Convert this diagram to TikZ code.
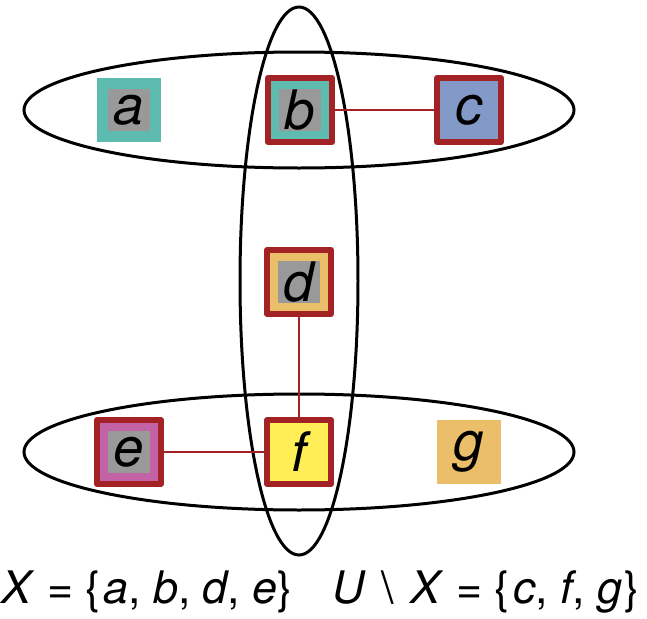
\documentclass[tikz,border=0pt]{standalone}
\usepackage{fontspec}
\setmainfont{TeX Gyre Heros}

\definecolor{hred}{HTML}{A32226}
\definecolor{hgrey}{HTML}{999999}
\definecolor{hteal}{HTML}{5DBCAF}
\definecolor{hblue}{HTML}{8399C8}
\definecolor{horange}{HTML}{EBBE6A}
\definecolor{hpink}{HTML}{C462A8}
\definecolor{hyellow}{HTML}{FFEE55}

\begin{document}
\begin{tikzpicture}[
        x=0.02cm, y=-0.02cm,
        every node/.style={font=\fontsize{25.5}{30}\selectfont},
        set/.style={draw=black, line width=0.06cm},
        item/.style={minimum size=1.3cm, inner sep=0pt, font=\fontsize{31}{34}\selectfont\itshape},
        marked/.style={draw=hred, line width=0.12cm, line join=round, minimum size=1.28cm},
        core/.style={fill=hgrey, minimum size=0.86cm, inner sep=0pt, font=\fontsize{31}{34}\selectfont\itshape},
        link/.style={draw=hred, line width=0.04cm}
    ]

    \useasboundingbox (0,0) rectangle (647,619);

    % Sets
    \draw[set] (299,110) ellipse [x radius=275, y radius=58];
    \draw[set] (299,452) ellipse [x radius=275, y radius=58];
    \draw[set] (299,281) ellipse [x radius=59, y radius=274];

    % Top row
    \node[item, fill=hteal] (a) at (129,110) {};
    \node[core] (ca) at (a) {a};
    \node[item, marked, fill=hteal] (b) at (300,110) {};
    \node[core] (cb) at (b) {b};
    \node[item, marked, fill=hblue] (c) at (469,110) {c};

    % Middle
    \node[item, marked, fill=horange] (d) at (299,282) {};
    \node[core] (cd) at (d) {d};

    % Bottom row
    \node[item, marked, fill=hpink] (e) at (129,452) {};
    \node[core] (ce) at (e) {e};
    \node[item, marked, fill=hyellow] (f) at (299,452) {f};
    \node[item, fill=horange] (g) at (469,452) {g};

    % Links
    \draw[link] (b) -- (c);
    \draw[link] (d) -- (f);
    \draw[link] (e) -- (f);

    % Partition
    \node[anchor=base west, inner sep=0pt] (inside) at (1,603)
    {\textit{X} = \{\kern1.5pt\textit{a}, \textit{b}, \textit{d}, \textit{e}\}};
    \node[anchor=base west, inner sep=0pt] (outside) at (332,603)
    {\textit{U}\kern2pt{} \textbackslash\kern2pt{} \textit{X} = \{\kern2pt\textit{c}, \textit{f}, \textit{g}\kern1pt\}};

\end{tikzpicture}
\end{document}
